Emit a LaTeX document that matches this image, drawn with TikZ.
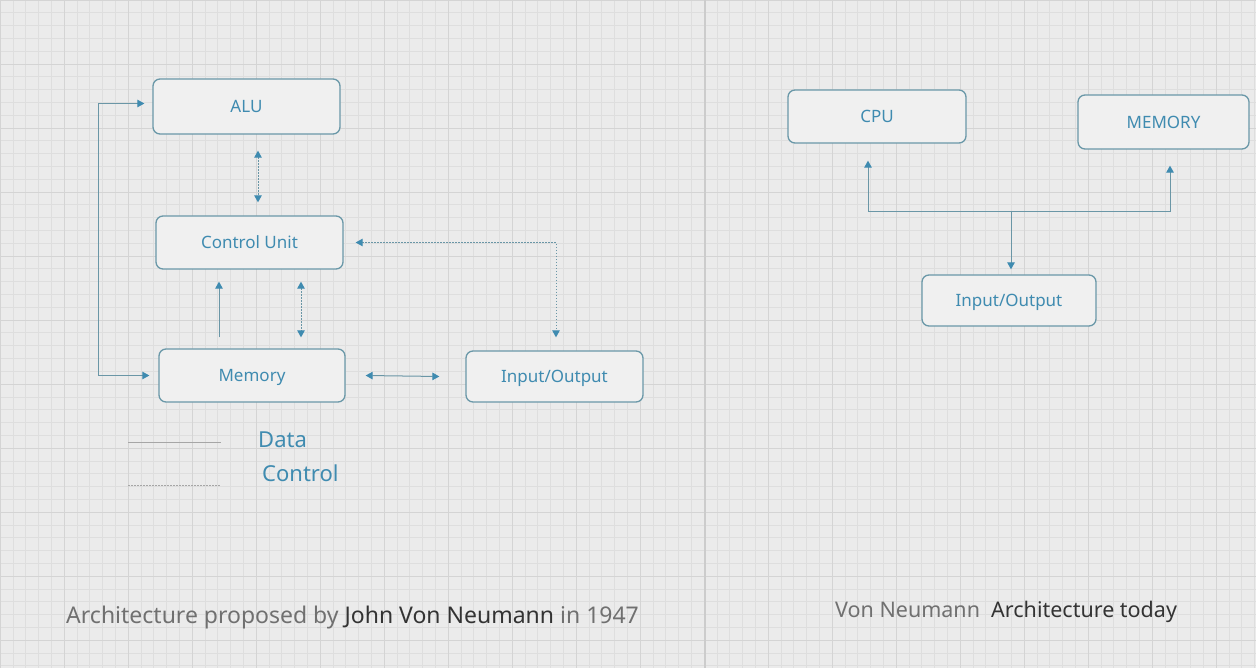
\documentclass[tikz,border=0pt]{standalone}
\usepackage{fontspec}
\setmainfont{Noto Sans}
\usetikzlibrary{arrows.meta}

\definecolor{paper}{HTML}{EBEBEB}
\definecolor{gridc}{HTML}{DEDEDE}
\definecolor{gridmaj}{HTML}{D4D4D4}
\definecolor{boxline}{HTML}{6A98A8}
\definecolor{boxfill}{HTML}{F0F0F0}
\definecolor{label}{HTML}{3F8BB0}
\definecolor{wire}{HTML}{6A96A6}
\definecolor{tip}{HTML}{3F8BB0}
\definecolor{capgray}{HTML}{707070}
\definecolor{capdark}{HTML}{333333}

\begin{document}
\begin{tikzpicture}[x=1pt, y=-1pt,
    unit/.style={draw=boxline, fill=boxfill, line width=1.3pt, rounded corners=7pt,
                 inner sep=0pt, minimum height=53pt, text=label,
                 text height=12.5pt, text depth=0pt,
                 font=\fontsize{17}{20}\selectfont},
    data/.style={draw=wire, line width=1pt, {Triangle[width=7.5pt,length=7pt,color=tip]}-{Triangle[width=7.5pt,length=7pt,color=tip]}},
    onehead/.style={draw=wire, line width=1pt, -{Triangle[width=7.5pt,length=7pt,color=tip]}},
    ctrl/.style={data, dash pattern=on 1.5pt off 1.5pt},
    legend/.style={draw=gray!70, line width=1pt},
    legtext/.style={text=label, anchor=west, inner sep=0pt, font=\fontsize{22}{26}\selectfont},
    caption/.style={anchor=west, inner sep=0pt, text=capgray}]
    % background sheet
    \fill[paper] (0,0) rectangle (1256,668);
    \useasboundingbox (0,0) rectangle (1256,668);
    \foreach \g in {0,12.8,...,1256} \draw[gridc, line width=0.6pt] (\g,0) -- (\g,668);
    \foreach \g in {0,12.8,...,668} \draw[gridc, line width=0.6pt] (0,\g) -- (1256,\g);
    \foreach \g in {0,64,...,1256} \draw[gridmaj, line width=0.8pt] (\g,0) -- (\g,668);
    \foreach \g in {0,64,...,668} \draw[gridmaj, line width=0.8pt] (0,\g) -- (1256,\g);
    \draw[gray!40, line width=1.5pt] (705,0) -- (705,668);

    % 1947 architecture
    \node[unit, minimum width=187pt, minimum height=55pt] (alu) at (246.5,106.5) {ALU};
    \node[unit, minimum width=187pt] (cu) at (249.5,242.5) {Control Unit};
    \node[unit, minimum width=186pt] (mem) at (252,375.5) {Memory};
    \node[unit, minimum width=177pt, minimum height=51pt] (io) at (554.5,376.5) {Input/Output};
    \coordinate (loop) at (98,0);

    \draw[data] ([xshift=-8pt,yshift=3pt]alu.west) -| (loop |- mem.west) -- ([xshift=-9pt]mem.west);
    \draw[ctrl] ([xshift=11.5pt,yshift=-16pt]alu.south) -- ([xshift=8.5pt,yshift=13pt]cu.north);
    \draw[onehead] ([xshift=-33pt,yshift=11pt]mem.north) -- ([xshift=-30.5pt,yshift=-12pt]cu.south);
    \draw[ctrl] ([xshift=51.5pt,yshift=-12pt]cu.south) -- ([xshift=49pt,yshift=11pt]mem.north);
    \draw[ctrl] ([xshift=12pt]cu.east) -| ([xshift=1.5pt,yshift=13pt]io.north);
    \draw[data] ([xshift=20pt]mem.east) -- ([xshift=-26pt]io.west);

    % legend
    \coordinate (d1) at (128,442);
    \coordinate (d2) at (221,442);
    \coordinate (c1) at (128,485);
    \coordinate (c2) at (221,485);
    \draw[legend] (d1) -- (d2);
    \draw[legend, dash pattern=on 1.5pt off 1.5pt] (c1) -- (c2);
    \node[legtext] (datatxt) at (258,440) {Data};
    \node[legtext] (ctrltxt) at (262,473) {Control};

    % today
    \node[unit, minimum width=178pt] (cpu) at (877,116.5) {CPU};
    \node[unit, minimum width=171pt, minimum height=54pt] (memory) at (1163.5,122) {MEMORY};
    \node[unit, minimum width=174pt, minimum height=51pt] (io2) at (1009,300.5) {Input/Output};
    \coordinate (hub) at (1011,212);
    \draw[onehead] (hub) -- ([xshift=2pt,yshift=5pt]io2.north);
    \draw[onehead] (hub) -| ([xshift=-9pt,yshift=-17pt]cpu.south);
    \draw[onehead] (hub) -| ([xshift=6.5pt,yshift=-16pt]memory.south);

    % captions
    \node[caption, font=\fontsize{23}{27}\selectfont] (cap1) at (66,618)
        {Architecture proposed by \textcolor{capdark}{John Von Neumann} in 1947};
    \node[caption, font=\fontsize{21.5}{26}\selectfont] (cap2) at (835,612)
        {Von Neumann\ \ \textcolor{capdark}{Architecture today}};
\end{tikzpicture}
\end{document}
